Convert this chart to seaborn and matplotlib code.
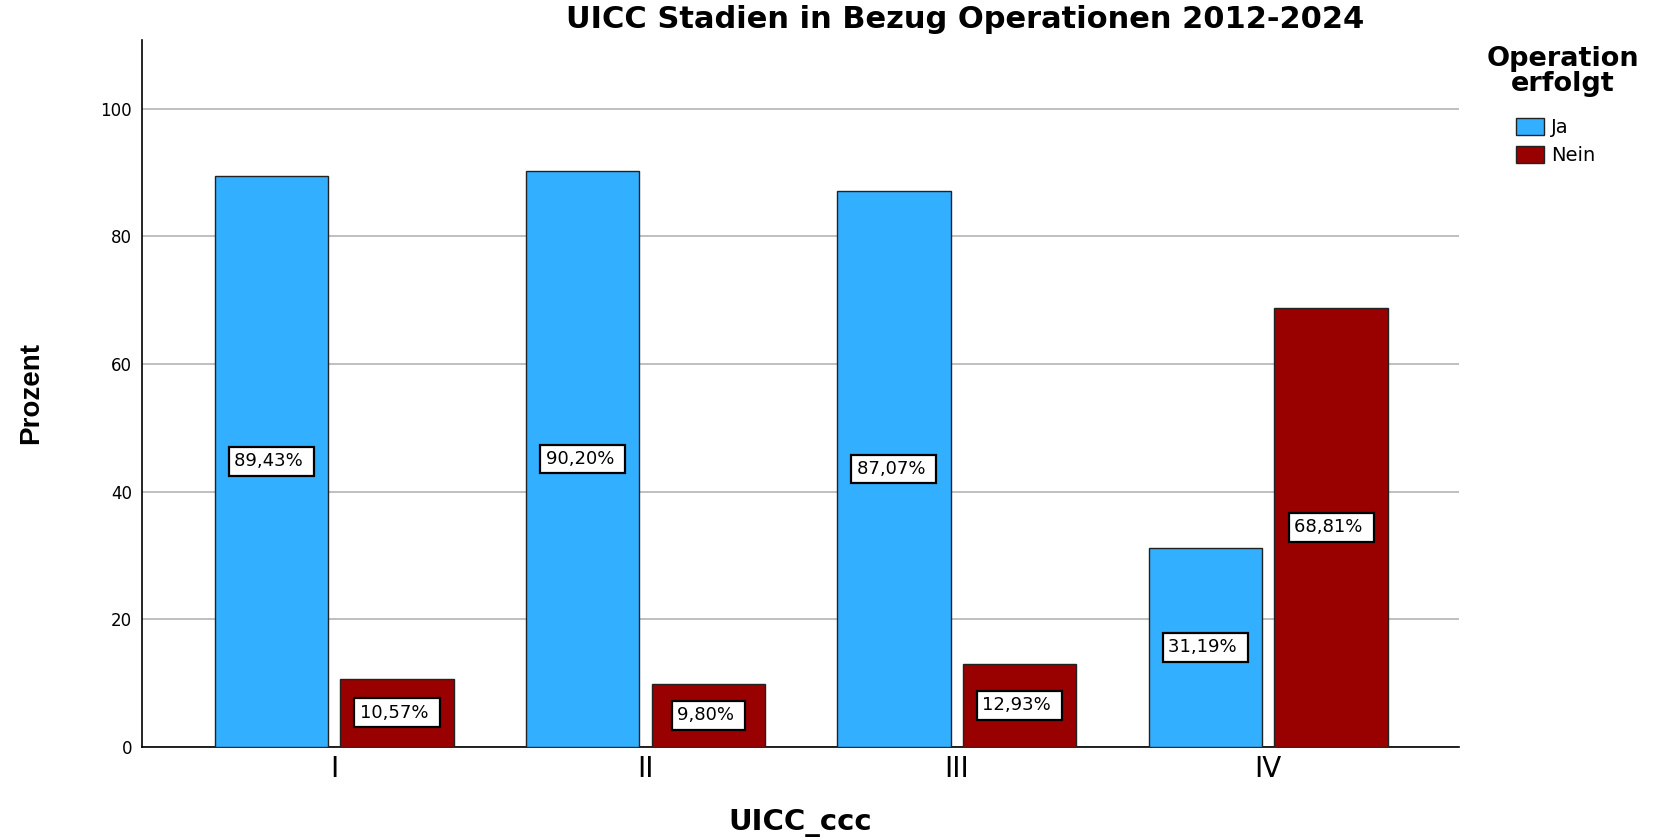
import matplotlib
matplotlib.use("Agg")
import matplotlib.pyplot as plt
import seaborn as sns
import pandas as pd

categories = ["I", "II", "III", "IV"]
ja_values = [89.43, 90.20, 87.07, 31.19]
nein_values = [10.57, 9.80, 12.93, 68.81]
series_names = ["Ja", "Nein"]
series_colors = ["#33AFFF", "#990000"]
y_ticks = [0, 20, 40, 60, 80, 100]

df = pd.DataFrame({
    "UICC_ccc": categories * 2,
    "Prozent": ja_values + nein_values,
    "Operation erfolgt": [series_names[0]] * len(categories) + [series_names[1]] * len(categories),
})

sns.set_theme(style="white")
plt.rcParams['font.family'] = ['DejaVu Sans']
plt.rcParams['text.color'] = 'black'

W, H = 1658, 840
fig = plt.figure(figsize=(W / 100, H / 100), dpi=100)
ax = fig.add_axes([141.7 / W, 1 - 746.6 / H, (1459 - 141.7) / W, (746.6 - 40) / H])

sns.barplot(data=df, x="UICC_ccc", y="Prozent", hue="Operation erfolgt",
            order=categories, hue_order=series_names,
            palette=dict(zip(series_names, series_colors)),
            width=0.808, gap=0.1, edgecolor="#222222", linewidth=1,
            saturation=1, ax=ax, zorder=3)

ax.set_xlim(-0.618, 3.613)
ax.set_ylim(0, 110.8)
ax.set_yticks(y_ticks)
ax.set_yticklabels([str(t) for t in y_ticks])

ax.set_axisbelow(True)
ax.yaxis.grid(True, color="#b4b4b4", lw=1.2)
ax.xaxis.grid(False)
for s in ["top", "right"]:
    ax.spines[s].set_visible(False)
for s in ["left", "bottom"]:
    ax.spines[s].set_color("black")
    ax.spines[s].set_linewidth(1.2)

ax.tick_params(axis="y", length=0, pad=7, labelsize=12, colors="black")
ax.tick_params(axis="x", length=0, pad=6, labelsize=20, colors="black")

for cont in ax.containers:
    labels = [f"{v:.2f}% ".replace(".", ",") for v in cont.datavalues]
    ax.bar_label(cont, labels=labels, label_type="center", fontsize=13, color="black",
                 bbox=dict(boxstyle="square,pad=0.3", fc="white", ec="black", lw=1.6),
                 zorder=5)

ax.set_xlabel("UICC_ccc", fontsize=21, fontweight="bold", color="black")
ax.xaxis.set_label_coords(0.5, -0.088)
ax.set_ylabel("Prozent", fontsize=20, fontweight="bold", color="black",
              family=["Liberation Sans", "DejaVu Sans"])
ax.yaxis.set_label_coords(-0.074, 0.5)

fig.text(965 / W, 1 - 20 / H, "UICC Stadien in Bezug Operationen 2012-2024",
         ha="center", va="center", fontsize=22, fontweight="bold", color="black")

# legend title drawn as figure text, entries as legend
fig.text(1563 / W, 1 - 46 / H, "Operation\nerfolgt", ha="center", va="top",
         multialignment="center", linespacing=0.95,
         fontsize=19.5, fontweight="bold", color="black")

h, l = ax.get_legend_handles_labels()
ax.legend(h, l, loc="upper left",
          bbox_to_anchor=(1516 / W, 1 - 118 / H), bbox_transform=fig.transFigure,
          frameon=False, fontsize=14, borderpad=0, borderaxespad=0,
          handlelength=1.45, handleheight=1.0, handletextpad=0.35, labelspacing=0.42)

fig.savefig("out.png", dpi=100)
